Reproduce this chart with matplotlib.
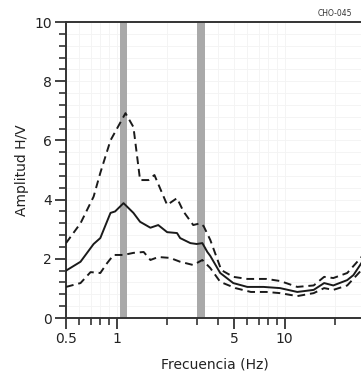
import matplotlib.pyplot as plt
from matplotlib.ticker import FixedLocator, NullFormatter, MultipleLocator

# H/V curve (mean) and +/- std curves
freq_mean = [0.5, 0.61, 0.73, 0.80, 0.92, 0.98, 1.10, 1.26, 1.38, 1.59, 1.77, 2.0,
             2.29, 2.39, 2.75, 3.0, 3.24, 3.47, 3.61, 4.14, 4.95, 6.0, 7.5, 9.4,
             11.9, 14.9, 17.2, 19.5, 23.6, 25.7, 28.7, 32.0]
amp_mean = [1.6, 1.9, 2.5, 2.7, 3.55, 3.6, 3.88, 3.55, 3.25, 3.05, 3.14, 2.9,
            2.87, 2.7, 2.53, 2.5, 2.53, 2.23, 2.1, 1.52, 1.18, 1.05, 1.05, 1.01,
            0.88, 0.95, 1.18, 1.1, 1.28, 1.45, 1.86, 2.4]

freq_up = [0.5, 0.61, 0.73, 0.80, 0.92, 1.13, 1.26, 1.38, 1.55, 1.68, 2.0, 2.29,
           2.5, 2.86, 3.15, 3.3, 3.61, 4.2, 4.95, 6.0, 7.8, 9.4, 11.9, 14.9,
           17.2, 19.5, 23.6, 28.7, 32.0]
amp_up = [2.53, 3.2, 4.1, 4.9, 6.0, 6.92, 6.45, 4.66, 4.66, 4.83, 3.82, 4.05,
          3.6, 3.14, 3.2, 3.1, 2.64, 1.62, 1.39, 1.32, 1.32, 1.25, 1.05, 1.1,
          1.39, 1.35, 1.52, 2.06, 2.6]

freq_low = [0.5, 0.61, 0.70, 0.80, 0.88, 0.96, 1.10, 1.26, 1.45, 1.59, 1.77, 2.08,
            2.39, 2.86, 3.24, 3.61, 4.14, 5.1, 6.3, 7.8, 9.4, 11.9, 14.9, 17.2,
            19.5, 23.6, 28.7, 32.0]
amp_low = [1.05, 1.18, 1.55, 1.52, 1.86, 2.13, 2.13, 2.2, 2.23, 1.96, 2.06, 2.03,
           1.9, 1.79, 1.96, 1.69, 1.22, 1.01, 0.88, 0.88, 0.84, 0.74, 0.84, 1.01,
           0.95, 1.1, 1.62, 2.2]

# peak frequency bands
bands = [(1.05, 1.16), (3.02, 3.37)]

x_major = [0.5, 1, 5, 10]
x_major_labels = ['0.5', '1', '5', '10']
x_minor = [0.6, 0.7, 0.8, 0.9, 2, 3, 4, 6, 7, 8, 9, 20, 30, 40]

fig = plt.figure(figsize=(3.61, 3.81), dpi=100)
ax = fig.add_axes([66 / 361, 63 / 381, 336 / 361, 296 / 381])

for lo, hi in bands:
    ax.axvspan(lo, hi, color='#a9a9a9', lw=0, zorder=1)

ax.plot(freq_mean, amp_mean, '-', color='#1a1a1a', lw=1.4, zorder=3)
ax.plot(freq_up, amp_up, '--', color='#1a1a1a', lw=1.4, dashes=(4, 2.5), zorder=3)
ax.plot(freq_low, amp_low, '--', color='#1a1a1a', lw=1.4, dashes=(4, 2.5), zorder=3)

ax.set_xscale('log')
ax.set_xlim(0.5, 50)
ax.set_ylim(0, 10)

ax.xaxis.set_major_locator(FixedLocator(x_major))
ax.set_xticklabels(x_major_labels)
ax.xaxis.set_minor_locator(FixedLocator(x_minor))
ax.xaxis.set_minor_formatter(NullFormatter())
ax.yaxis.set_major_locator(MultipleLocator(2))
ax.yaxis.set_minor_locator(MultipleLocator(0.4))

ax.grid(True, which='both', color='#f3f3f3', lw=0.6, zorder=0)
ax.set_axisbelow(True)

ax.tick_params(which='major', length=8, width=1.3, color='#333333',
               labelsize=10, labelcolor='#222222', pad=2)
ax.tick_params(which='minor', length=5, width=1.2, color='#333333')

for side in ['left', 'bottom', 'top', 'right']:
    ax.spines[side].set_color('#333333')
    ax.spines[side].set_linewidth(1.4)

ax.set_ylabel('Amplitud H/V', fontsize=10, color='#222222', labelpad=4)
ax.set_xlabel('Frecuencia (Hz)', fontsize=10, color='#222222')
ax.xaxis.set_label_coords((215 - 66) / 336, -0.135)

fig.text(318 / 361, 1 - 14 / 381, 'CHO-045', fontsize=5.5, color='#333333',
         ha='left', va='center')

fig.savefig('out.png', dpi=100)
